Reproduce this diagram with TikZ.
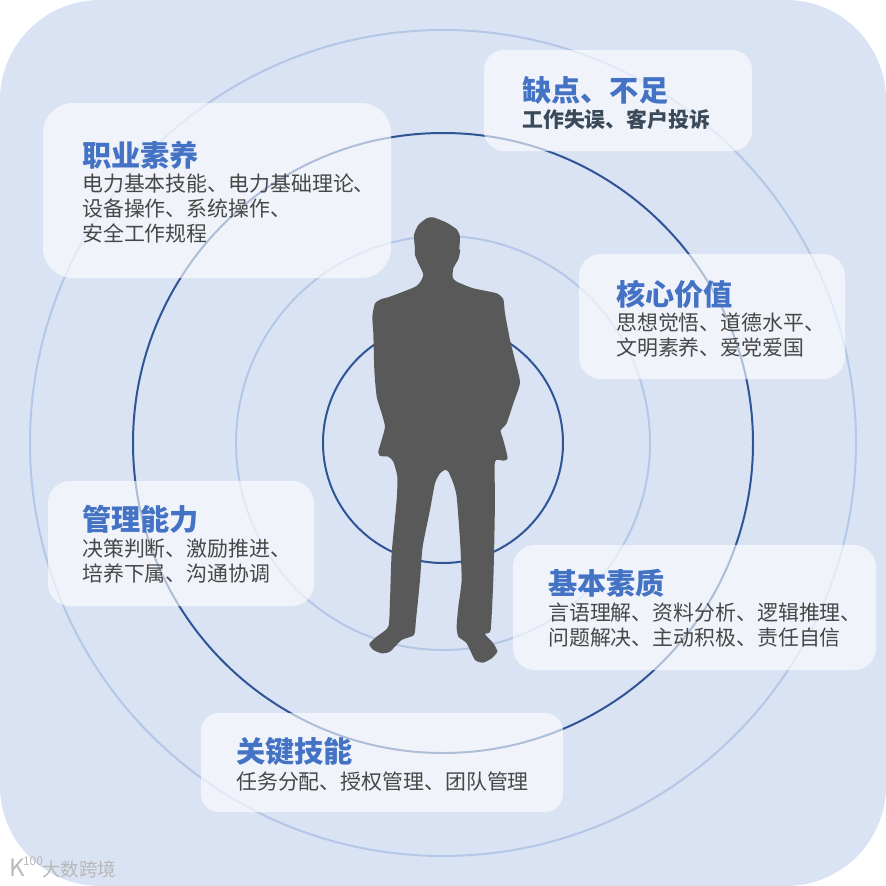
\documentclass[tikz,border=0pt]{standalone}
\usepackage{fontspec}
\setmainfont{Noto Sans CJK SC}
\usetikzlibrary{positioning}
\definecolor{bgblue}{HTML}{DAE3F3}
\definecolor{ringlight}{HTML}{B4C7E7}
\definecolor{ringdark}{HTML}{2F5597}
\definecolor{headblue}{HTML}{4472C4}
\definecolor{figgray}{HTML}{595959}
\definecolor{subdark}{HTML}{3B4A5A}
\tikzset{
    panel/.style={fill=white, fill opacity=0.62, rounded corners=#1, inner sep=0pt},
    panel/.default=20pt,
    headtxt/.style={anchor=west, inner sep=0pt, text=headblue, font=\fontsize{29.2}{32}\selectfont\bfseries},
    bodytxt/.style={anchor=north west, inner sep=0pt, align=left, text=black!72, font=\fontsize{20.9}{25}\selectfont},
    subtxt/.style={anchor=west, inner sep=0pt, text=subdark, font=\fontsize{20.9}{25}\selectfont\bfseries},
    marktxt/.style={inner sep=0pt, text=black!28}
}
\begin{document}
\begin{tikzpicture}[x=1pt, y=-1pt]
    \useasboundingbox (0,0) rectangle (886,886);
    % Sfondo
    \fill[bgblue, rounded corners=100pt] (0,0) rectangle (886,886);

    % Cerchi
    \coordinate (centre) at (443,443);
    \draw[ringlight, line width=2pt] (centre) circle[radius=413pt];
    \draw[ringdark, line width=2pt] (centre) circle[radius=310pt];
    \draw[ringlight, line width=2pt] (centre) circle[radius=207pt];
    \draw[ringdark, line width=2pt] (centre) circle[radius=120pt];

    % Sagoma
    \begin{scope}[shift={(340,200)}, x=0.3333pt, y=-0.3333pt]
        \fill[figgray] plot[smooth cycle, tension=0.35] coordinates {
            (280,52) (320,68) (350,88) (360,110) (358,148) (361,150) (355,178) (340,205)
            (338,232) (350,245) (400,265) (470,280) (490,298) (495,340) (510,420) (525,480)
            (540,548) (520,610) (500,670) (482,692) (490,720) (503,775) (490,782) (465,785)
            (465,900) (463,1020) (460,1140) (452,1290) (435,1302) (460,1330) (472,1355)
            (455,1375) (430,1388) (405,1380) (380,1330) (355,1310) (350,1280) (355,1220)
            (365,1140) (360,1020) (350,890) (340,850) (325,815) (315,810) (300,820) (285,850)
            (270,930) (248,1040) (240,1140) (228,1260) (222,1305) (185,1320) (150,1355)
            (125,1360) (100,1350) (88,1332) (110,1310) (145,1280) (150,1200) (155,1060)
            (170,900) (172,830) (160,785) (145,770) (120,768) (115,755) (125,720) (135,680)
            (125,640) (110,590) (103,510) (100,400) (97,350) (105,310) (125,297) (150,290)
            (230,258) (250,225) (235,190) (225,165) (225,148) (222,105) (235,75) (260,55)
        };
    \end{scope}

    % Riquadri
    \fill[panel=20pt] (484,50) rectangle (752,151);
    \fill[panel=30pt] (43,103) rectangle (391,278);
    \fill[panel=22pt] (579,254) rectangle (845,379);
    \fill[panel=22pt] (48,481) rectangle (314,606);
    \fill[panel=22pt] (513,545) rectangle (876,670);
    \fill[panel=18pt] (201,713) rectangle (563,812);

    % Testi
    \node[headtxt] (defect) at (522,90) {缺点、不足};
    \node[subtxt] (defectsub) at (522,120) {工作失误、客户投诉};

    \node[headtxt] (career) at (82,155) {职业素养};
    \node[bodytxt] (careerbody) at (82,174) {电力基本技能、电力基础理论、\\设备操作、系统操作、\\安全工作规程};

    \node[headtxt] (core) at (616,294) {核心价值};
    \node[bodytxt] (corebody) at (616,313) {思想觉悟、道德水平、\\文明素养、爱党爱国};

    \node[headtxt] (manage) at (82,519) {管理能力};
    \node[bodytxt] (managebody) at (82,539) {决策判断、激励推进、\\培养下属、沟通协调};

    \node[headtxt] (basic) at (548,583) {基本素质};
    \node[bodytxt] (basicbody) at (548,603) {言语理解、资料分析、逻辑推理、\\问题解决、主动积极、责任自信};

    \node[headtxt] (key) at (236,752) {关键技能};
    \node[bodytxt] (keybody) at (236,772) {任务分配、授权管理、团队管理};

    % Marchio
    \node[marktxt, font=\fontsize{24}{24}\selectfont] (logok) at (17,868) {K};
    \node[marktxt, font=\fontsize{12}{12}\selectfont] (logonum) at (33,861) {100};
    \node[marktxt, anchor=west, font=\fontsize{18.5}{20}\selectfont] (mark) at (42,869) {大数跨境};
\end{tikzpicture}
\end{document}
